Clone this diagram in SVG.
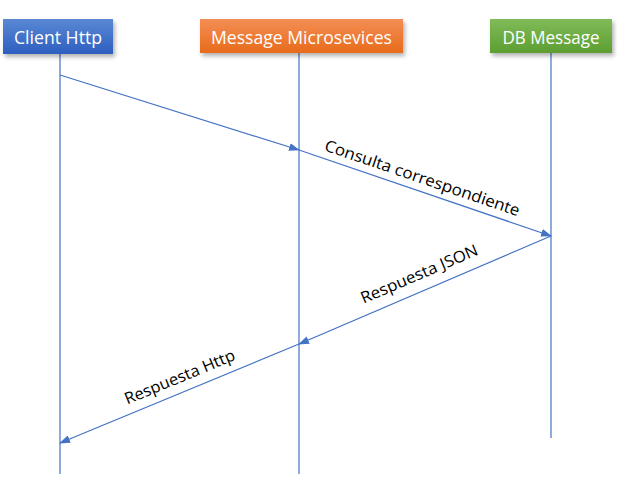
<svg xmlns="http://www.w3.org/2000/svg" width="617" height="481" viewBox="0 0 617 481">
<style>
.box-text{font-family:"Open Sans","Liberation Sans",sans-serif;font-size:18px;fill:#ffffff;text-anchor:middle}
.lbl{font-family:"Open Sans","Liberation Sans",sans-serif;font-size:16px;fill:#000000;text-anchor:middle}
.life{stroke:#4472c4;stroke-width:1.2;fill:none}
.msg{stroke:#4472c4;stroke-width:1.2;fill:none;marker-end:url(#arr)}
</style>
<defs>
<linearGradient id="gBlue" x1="0" y1="0" x2="0" y2="1"><stop offset="0" stop-color="#5a88d4"/><stop offset="1" stop-color="#2d5fbf"/></linearGradient>
<linearGradient id="gOrange" x1="0" y1="0" x2="0" y2="1"><stop offset="0" stop-color="#f38e55"/><stop offset="1" stop-color="#e86b1a"/></linearGradient>
<linearGradient id="gGreen" x1="0" y1="0" x2="0" y2="1"><stop offset="0" stop-color="#80bb58"/><stop offset="1" stop-color="#5d9e31"/></linearGradient>
<filter id="sh" x="-10%" y="-20%" width="130%" height="160%"><feDropShadow dx="2" dy="3" stdDeviation="2" flood-color="#000" flood-opacity="0.3"/></filter>
<marker id="arr" markerWidth="11" markerHeight="8" refX="10" refY="4" orient="auto" markerUnits="userSpaceOnUse"><path d="M0,0 L11,4 L0,8 Z" fill="#4472c4"/></marker>
</defs>
<g id="lifelines">
<line class="life" x1="60" y1="54" x2="60" y2="474"/>
<line class="life" x1="299" y1="53" x2="299" y2="474"/>
<line class="life" x1="551" y1="53" x2="551" y2="438"/>
</g>
<g id="client-http">
<rect x="3" y="19" width="110" height="35" fill="url(#gBlue)" filter="url(#sh)"/>
<text class="box-text" x="58" y="43.5" textLength="88" lengthAdjust="spacingAndGlyphs">Client Http</text>
</g>
<g id="message-microservices">
<rect x="200" y="19" width="203" height="34" fill="url(#gOrange)" filter="url(#sh)"/>
<text class="box-text" x="301.5" y="43.5" textLength="181" lengthAdjust="spacingAndGlyphs">Message Microsevices</text>
</g>
<g id="db-message">
<rect x="490" y="19" width="122" height="34" fill="url(#gGreen)" filter="url(#sh)"/>
<text class="box-text" x="551" y="43.5" textLength="97" lengthAdjust="spacingAndGlyphs">DB Message</text>
</g>
<g id="connectors">
<line class="msg" x1="60" y1="75" x2="299" y2="150"/>
<line class="msg" x1="299" y1="150" x2="551" y2="236"/>
<line class="msg" x1="551" y1="236" x2="299" y2="344"/>
<line class="msg" x1="299" y1="344" x2="60" y2="443"/>
</g>
<g id="labels">
<text class="lbl" transform="translate(422.5,177.5) rotate(18.8)" x="0" y="6" textLength="205" lengthAdjust="spacingAndGlyphs">Consulta correspondiente</text>
<text class="lbl" transform="translate(419,273.5) rotate(-23.1)" x="0" y="6" textLength="126" lengthAdjust="spacingAndGlyphs">Respuesta JSON</text>
<text class="lbl" transform="translate(179.5,376.5) rotate(-22.5)" x="0" y="6" textLength="118" lengthAdjust="spacingAndGlyphs">Respuesta Http</text>
</g>
</svg>
